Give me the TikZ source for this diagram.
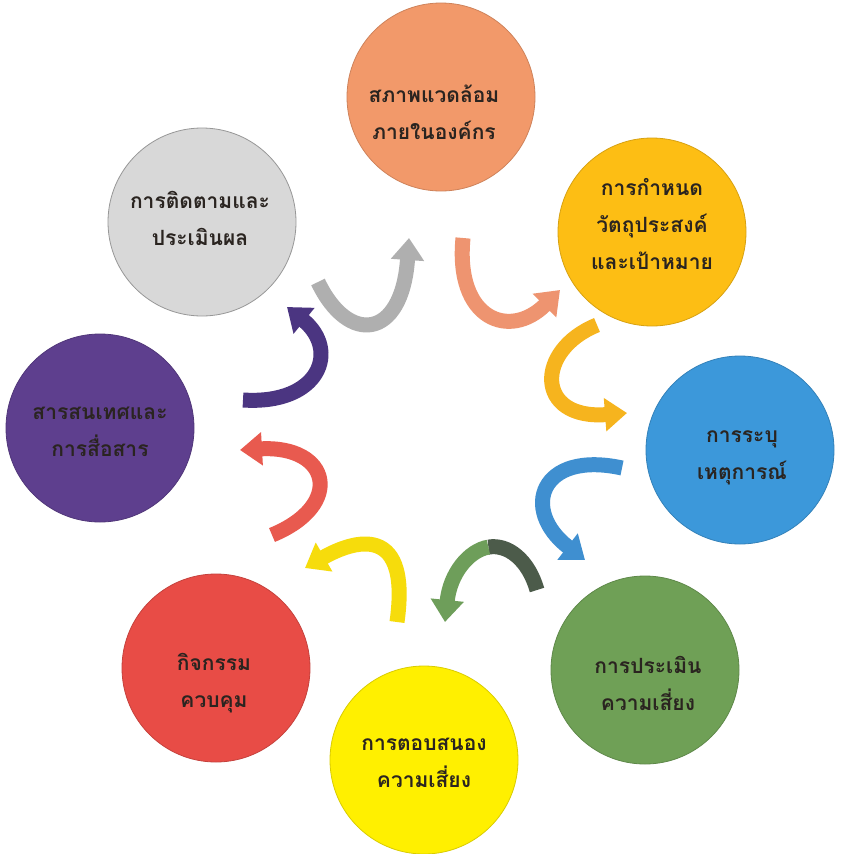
\documentclass[tikz,border=0pt]{standalone}
\usepackage{fontspec}
\newfontfamily\thaifont[Script=Thai]{Loma}
\usetikzlibrary{arrows.meta}
\definecolor{corange}{HTML}{F2996A}
\definecolor{cgold}{HTML}{FDBE14}
\definecolor{cblue}{HTML}{3C98DA}
\definecolor{cgreen}{HTML}{6FA056}
\definecolor{cyellow}{HTML}{FFF000}
\definecolor{cred}{HTML}{E84C46}
\definecolor{cpurple}{HTML}{5E3F8E}
\definecolor{cgray}{HTML}{D8D8D8}
\definecolor{agray}{HTML}{AFAFAF}
\definecolor{aorange}{HTML}{EE9470}
\definecolor{agold}{HTML}{F6B41E}
\definecolor{ablue}{HTML}{3F8FD0}
\definecolor{agreen}{HTML}{6E9E5A}
\definecolor{adark}{HTML}{4C5B4A}
\definecolor{ayellow}{HTML}{F6DC0C}
\definecolor{ared}{HTML}{E85A4F}
\definecolor{apurple}{HTML}{4B3581}
\definecolor{txt}{HTML}{2A2420}
\begin{document}
\begin{tikzpicture}[x=1pt,y=-1pt,
  bub/.style={circle,inner sep=0pt,outer sep=0pt,minimum size=188pt,line width=0.8pt},
  lbl/.style={align=center,text=txt,font=\thaifont\bfseries\fontsize{21}{37}\selectfont},
  ribbon/.style={line width=15pt,-{Triangle[width=32pt,length=22pt]}},
  plain/.style={line width=15pt}]
\useasboundingbox (0,0) rectangle (843,854);
\fill[white] (0,0) rectangle (843,854);
% circles
\node[bub,fill=corange,draw=corange!85!black] (c1) at (441,97) {};
\node[bub,fill=cgold,draw=cgold!85!black] (c2) at (652,232) {};
\node[bub,fill=cblue,draw=cblue!85!black] (c3) at (740,450) {};
\node[bub,fill=cgreen,draw=cgreen!85!black] (c4) at (645,670) {};
\node[bub,fill=cyellow,draw=cyellow!85!black] (c5) at (424,760) {};
\node[bub,fill=cred,draw=cred!85!black] (c6) at (216,668) {};
\node[bub,fill=cpurple,draw=cpurple!85!black] (c7) at (100,428) {};
\node[bub,fill=cgray,draw=cgray!70!black] (c8) at (202,222) {};
% labels
\node[lbl] (t1) at (434,112) {สภาพแวดล้อม\\ภายในองค์กร};
\node[lbl] (t2) at (652,224) {การกำหนด\\วัตถุประสงค์\\และเป้าหมาย};
\node[lbl] (t3) at (742,458) {การระบุ\\เหตุการณ์};
\node[lbl] (t4) at (648,683) {การประเมิน\\ความเสี่ยง};
\node[lbl] (t5) at (424,763) {การตอบสนอง\\ความเสี่ยง};
\node[lbl] (t6) at (214,683) {กิจกรรม\\ควบคุม};
\node[lbl] (t7) at (100,432) {สารสนเทศและ\\การสื่อสาร};
\node[lbl] (t8) at (200,218) {การติดตามและ\\ประเมินผล};
% arrow end points
\coordinate (g0) at (318,282); \coordinate (g1) at (409,238);
\coordinate (o0) at (463,238); \coordinate (o1) at (560,290);
\coordinate (y0) at (597,325); \coordinate (y1) at (627,413);
\coordinate (b0) at (622,468); \coordinate (b1) at (585,560);
\coordinate (n0) at (537,590); \coordinate (nm) at (488.4,547.1); \coordinate (n1) at (445,622);
\coordinate (e0) at (397,622); \coordinate (e1) at (305,568);
\coordinate (r0) at (272,535); \coordinate (r1) at (240,450);
\coordinate (p0) at (243,400); \coordinate (p1) at (287,307);
% arrows
\draw[ribbon,agray] (g0) .. controls (348,345) and (402,340) .. (g1);
\draw[ribbon,aorange] (o0) .. controls (455,320) and (510,340) .. (o1);
\draw[ribbon,agold] (y0) .. controls (535,350) and (535,420) .. (y1);
\draw[ribbon,ablue] (b0) .. controls (540,450) and (520,510) .. (b1);
\draw[plain,adark] (n0) .. controls (528.5,560) and (508,543.75) .. (nm);
\draw[ribbon,agreen] (nm) .. controls (468.75,550.5) and (450,573.5) .. (n1);
\draw[ribbon,ayellow] (e0) .. controls (412,515) and (345,545) .. (e1);
\draw[ribbon,ared] (r0) .. controls (345,505) and (330,445) .. (r1);
\draw[ribbon,apurple] (p0) .. controls (320,405) and (340,350) .. (p1);
\end{tikzpicture}
\end{document}
